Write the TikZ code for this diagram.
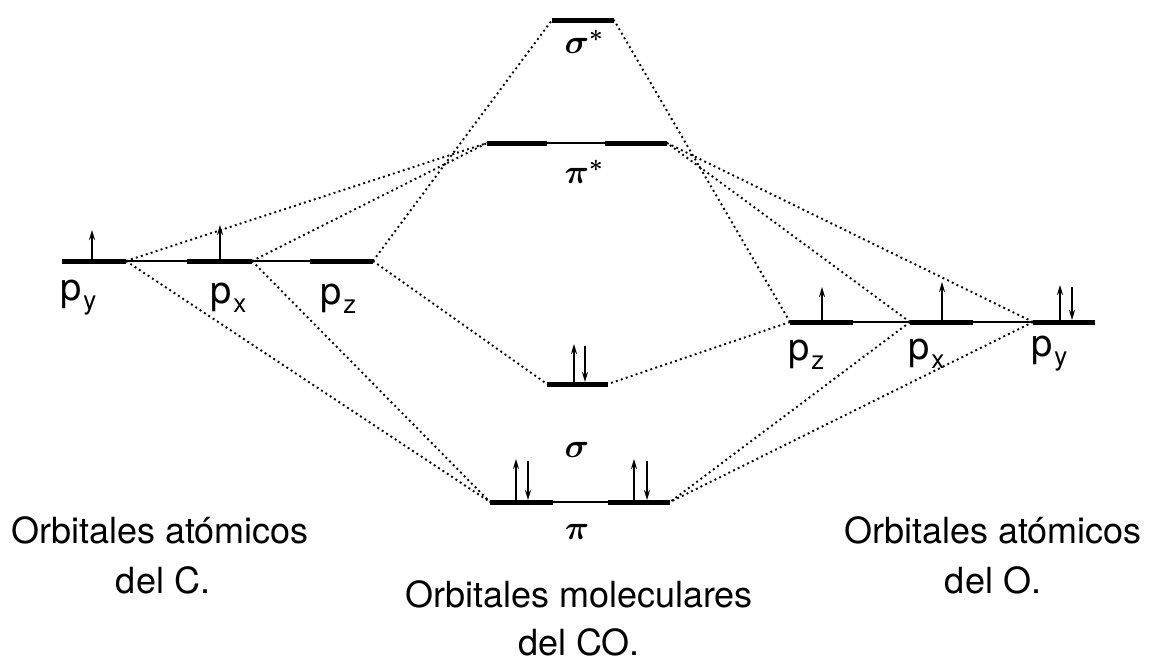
\RequirePackage{fix-cm}
\documentclass[tikz,border=0pt]{standalone}
\usepackage{fontspec}
\setmainfont{TeX Gyre Heros}
\usepackage{bm}
\usetikzlibrary{arrows.meta}
\begin{document}
\begin{tikzpicture}[x=1pt,y=-1pt,
  level/.style={line width=5pt},
  tie/.style={line width=1.4pt},
  corr/.style={line width=1.9pt, dash pattern=on 1.9pt off 3.3pt},
  elec/.style={line width=2.2pt,-{Stealth[length=10pt,width=6pt]}},
  lbl/.style={font=\fontsize{36}{36}\selectfont, inner sep=0pt, anchor=base},
  plbl/.style={font=\fontsize{38}{38}\selectfont, inner sep=0pt, anchor=base west},
  glbl/.style={font=\fontsize{34}{34}\selectfont, inner sep=0pt}]
\useasboundingbox (0,0) rectangle (1151,662);

% ---- carbon atomic orbitals
\coordinate (Cy1) at (62,261);  \coordinate (Cy2) at (126,261);
\coordinate (Cx1) at (187,261); \coordinate (Cx2) at (252,261);
\coordinate (Cz1) at (310,261); \coordinate (Cz2) at (373,261);
% ---- oxygen atomic orbitals
\coordinate (Oz1) at (790,322);  \coordinate (Oz2) at (853,322);
\coordinate (Ox1) at (910,322);  \coordinate (Ox2) at (973,322);
\coordinate (Oy1) at (1033,322); \coordinate (Oy2) at (1095,322);
% ---- molecular orbitals
\coordinate (Ss1) at (552,20);  \coordinate (Ss2) at (614,20);
\coordinate (Ps1) at (487,143); \coordinate (Ps2) at (547,143);
\coordinate (Ps3) at (605,143); \coordinate (Ps4) at (667,143);
\coordinate (S1) at (547,384);  \coordinate (S2) at (608,384);
\coordinate (P1) at (490,502);  \coordinate (P2) at (553,502);
\coordinate (P3) at (608,502);  \coordinate (P4) at (670,502);

% ---- correlation lines
\draw[corr] (Cy2) -- (Ps1);
\draw[corr] (Cy2) -- (P1);
\draw[corr] (Cx2) -- (Ps1);
\draw[corr] (Cx2) -- (P1);
\draw[corr] (Cz2) -- (Ss1);
\draw[corr] (Cz2) -- (S1);
\draw[corr] (Oz1) -- (Ss2);
\draw[corr] (Oz1) -- (S2);
\draw[corr] (Ox1) -- (Ps4);
\draw[corr] (Ox1) -- (P4);
\draw[corr] (Oy1) -- (Ps4);
\draw[corr] (Oy1) -- (P4);

% ---- levels
\draw[tie] (Cy1) -- (Cz2);
\draw[level] (Cy1) -- (Cy2);
\draw[level] (Cx1) -- (Cx2);
\draw[level] (Cz1) -- (Cz2);
\draw[tie] (Oz1) -- (Oy2);
\draw[level] (Oz1) -- (Oz2);
\draw[level] (Ox1) -- (Ox2);
\draw[level] (Oy1) -- (Oy2);
\draw[level] (Ss1) -- (Ss2);
\draw[tie] (Ps1) -- (Ps4);
\draw[level] (Ps1) -- (Ps2);
\draw[level] (Ps3) -- (Ps4);
\draw[level] (S1) -- (S2);
\draw[tie] (P1) -- (P4);
\draw[level] (P1) -- (P2);
\draw[level] (P3) -- (P4);

% ---- electrons
\draw[elec] (92,259) -- (92,230);
\draw[elec] (220,259) -- (220,225);
\draw[elec] (574,382) -- (574,344);
\draw[elec] (585,346) -- (585,382);
\draw[elec] (516,500) -- (516,459);
\draw[elec] (528,461) -- (528,500);
\draw[elec] (634,500) -- (634,459);
\draw[elec] (647,461) -- (647,500);
\draw[elec] (822,320) -- (822,287);
\draw[elec] (942,320) -- (942,282);
\draw[elec] (1060,320) -- (1060,285);
\draw[elec] (1072,287) -- (1072,320);

% ---- orbital labels
\node[plbl] (lCy) at (60,300) {p\hspace{2pt}\raisebox{-9pt}{\fontsize{26}{26}\selectfont y}};
\node[plbl] (lCx) at (210,303) {p\hspace{2pt}\raisebox{-9pt}{\fontsize{26}{26}\selectfont x}};
\node[plbl] (lCz) at (320,304) {p\hspace{2pt}\raisebox{-9pt}{\fontsize{26}{26}\selectfont z}};
\node[plbl] (lOz) at (788,360) {p\hspace{2pt}\raisebox{-9pt}{\fontsize{26}{26}\selectfont z}};
\node[plbl] (lOx) at (908,359) {p\hspace{2pt}\raisebox{-9pt}{\fontsize{26}{26}\selectfont x}};
\node[plbl] (lOy) at (1031,356) {p\hspace{2pt}\raisebox{-9pt}{\fontsize{26}{26}\selectfont y}};

\node[glbl] (lSs) at (584,42) {$\bm{\sigma}^{\bm{\ast}}$};
\node[glbl] (lPs) at (584,172) {$\bm{\pi}^{\bm{\ast}}$};
\node[glbl] (lS) at (577,450) {$\bm{\sigma}$};
\node[glbl] (lP) at (577,532) {$\bm{\pi}$};

% ---- captions
\node[lbl] (capC1) at (160,543) {Orbitales atómicos};
\node[lbl] (capC2) at (163,593) {del C.};
\node[lbl] (capM1) at (579,607) {Orbitales moleculares};
\node[lbl] (capM2) at (579,655) {del CO.};
\node[lbl] (capO1) at (993,543) {Orbitales atómicos};
\node[lbl] (capO2) at (993,593) {del O.};
\end{tikzpicture}
\end{document}
